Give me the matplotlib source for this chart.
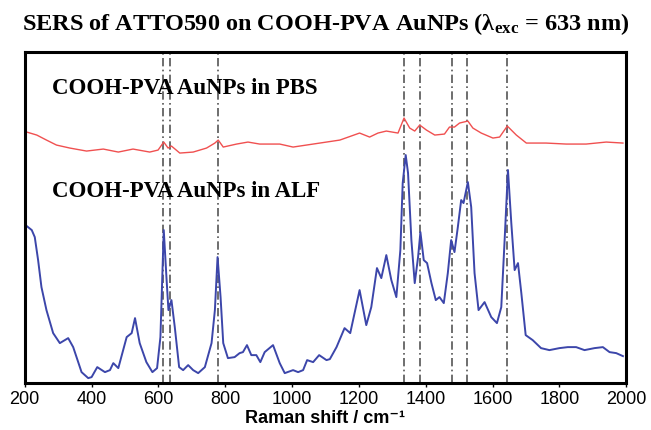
import matplotlib
matplotlib.use("Agg")
import matplotlib.pyplot as plt

plt.rcParams['mathtext.fontset'] = 'custom'
plt.rcParams['mathtext.rm'] = 'Liberation Serif:bold'
plt.rcParams['mathtext.it'] = 'Liberation Serif:bold:italic'
plt.rcParams['mathtext.bf'] = 'Liberation Serif:bold'

# spectre dans le PBS (haut, rouge)
pbs_x = [206, 236, 265, 295, 335, 385, 435, 480, 524, 574, 599, 616, 629, 639, 664,
         704, 744, 769, 779, 794, 834, 868, 903, 963, 1003, 1063, 1083, 1143, 1202,
         1232, 1257, 1282, 1317, 1335, 1352, 1367, 1382, 1402, 1427, 1456, 1471, 1486,
         1501, 1526, 1541, 1566, 1601, 1621, 1644, 1671, 1701, 1760, 1820, 1880, 1940, 1990]
pbs_y = [251, 248, 243, 238, 235, 232, 234, 231, 234, 231, 233, 241, 235, 237, 230,
         231, 235, 240, 243, 236, 239, 241, 239, 239, 236, 239, 240, 243, 250,
         246, 250, 252, 250, 265, 255, 252, 258, 253, 248, 249, 256, 256,
         260, 262, 255, 250, 245, 246, 257, 248, 240, 240, 239, 239, 241, 240]

# spectre dans l'ALF (bas, bleu)
alf_x = [206, 221, 230, 240, 250, 265, 285, 305, 330, 345, 370, 390, 400, 417, 440, 455,
         465, 480, 505, 520, 530, 544, 564, 582, 596, 606, 616, 624, 630, 639, 649, 662,
         674, 689, 704, 719, 739, 759, 769, 777, 786, 794, 808, 828, 843, 853, 865, 878,
         893, 905, 918, 943, 963, 978, 1003, 1018, 1033, 1045, 1063, 1081, 1103, 1113,
         1133, 1157, 1174, 1187, 1202, 1222, 1237, 1254, 1267, 1282, 1297, 1312, 1324,
         1331, 1340, 1347, 1357, 1367, 1377, 1384, 1394, 1404, 1417, 1430, 1441, 1454,
         1466, 1476, 1486, 1496, 1506, 1513, 1526, 1536, 1546, 1558, 1576, 1596, 1613,
         1626, 1636, 1646, 1656, 1666, 1676, 1686, 1699, 1720, 1745, 1770, 1800, 1825,
         1850, 1875, 1905, 1930, 1950, 1970, 1990]
alf_y = [157, 153, 146, 123, 96, 73, 50, 40, 45, 36, 11, 5, 6, 16, 11, 13,
         20, 15, 46, 50, 65, 40, 21, 11, 15, 46, 153, 106, 73, 83, 56, 16,
         13, 18, 13, 10, 16, 40, 73, 126, 86, 40, 25, 26, 30, 31, 38, 28,
         28, 21, 31, 38, 20, 10, 13, 11, 13, 23, 21, 28, 23, 24,
         36, 55, 50, 70, 93, 58, 76, 115, 105, 128, 103, 86, 133,
         200, 228, 210, 143, 100, 126, 151, 123, 120, 100, 83, 86, 80,
         110, 143, 131, 156, 183, 180, 201, 176, 110, 73, 81, 66, 60,
         76, 143, 213, 160, 113, 120, 90, 48, 43, 35, 33, 35, 36,
         36, 33, 35, 36, 31, 30, 27]

# positions des raies
raies = [614, 634, 778, 1334, 1382, 1478, 1524, 1644]

fig = plt.figure(figsize=(6.51, 4.30), dpi=100)
ax = fig.add_axes([0.038, 0.109, 0.924, 0.770])

for r in raies:
    ax.axvline(r, color='#555555', lw=1.2, ls=(0, (5, 2, 1, 2)))

ax.plot(pbs_x, pbs_y, color='#f05050', lw=1.0)
ax.plot(alf_x, alf_y, color='#3c46aa', lw=1.4)

ax.set_xlim(200, 2000)
ax.set_ylim(0, 331)
ax.set_xticks(range(200, 2001, 200))
ax.set_yticks([])
ax.tick_params(axis='x', direction='out', length=3, width=1, labelsize=13, pad=3)
for lab in ax.get_xticklabels():
    lab.set_family('Liberation Sans')
for s in ax.spines.values():
    s.set_linewidth(2.2)

ax.set_xlabel('Raman shift / cm⁻¹', family=['Liberation Sans', 'DejaVu Sans'],
              fontweight='bold', fontsize=13, labelpad=1)

ax.text(0.046, 0.89, 'COOH-PVA AuNPs in PBS', transform=ax.transAxes,
        family='Liberation Serif', fontweight='bold', fontsize=16.5, va='center')
ax.text(0.046, 0.58, 'COOH-PVA AuNPs in ALF', transform=ax.transAxes,
        family='Liberation Serif', fontweight='bold', fontsize=16.5, va='center')

fig.text(0.5, 0.945, r'SERS of ATTO590 on COOH-PVA AuNPs (λ$_{\rm exc}$ = 633 nm)',
         family='Liberation Serif', fontweight='bold', fontsize=17.5, ha='center', va='center')

fig.savefig('out.png', dpi=100)
